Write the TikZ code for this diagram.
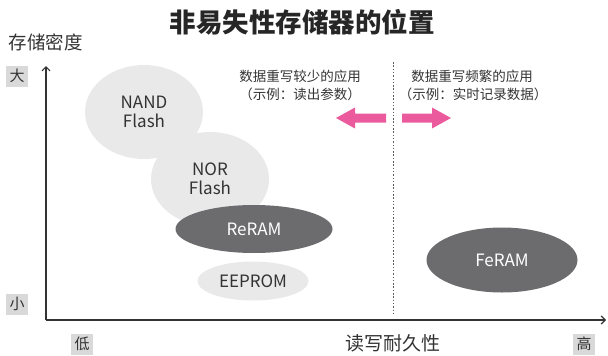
\documentclass[tikz,border=0pt]{standalone}
\usepackage{fontspec}
\setmainfont{Noto Sans CJK SC}
\usetikzlibrary{shapes.geometric,arrows.meta}
\definecolor{lightell}{HTML}{E9E9EA}
\definecolor{darkell}{HTML}{6C6C6E}
\definecolor{txt}{HTML}{333333}
\definecolor{boxgray}{HTML}{D9D9D9}
\definecolor{pinkarrow}{HTML}{EC5A9E}
\begin{document}
\begin{tikzpicture}[x=1pt,y=-1pt,
  lightel/.style={ellipse,fill=lightell,inner sep=0pt,text=txt,align=center,font=\fontsize{17}{19}\selectfont},
  darkel/.style={ellipse,fill=darkell,inner sep=0pt,text=white,align=center,font=\fontsize{17}{19}\selectfont},
  lvl/.style={fill=boxgray,text=txt,minimum width=22pt,minimum height=21pt,inner sep=0pt,font=\fontsize{15}{15}\selectfont},
  lab/.style={text=txt,inner sep=0pt,font=\fontsize{13.5}{16}\selectfont},
  axis/.style={line width=1.6pt,draw=txt,-{Straight Barb[length=4pt,width=8pt,line width=1.2pt]}},
  pinkar/.style={fill=pinkarrow,draw=none}]
\useasboundingbox (0,0) rectangle (608,356);

% title
\node[text=black!85,inner sep=0pt,font=\fontsize{26.5}{26.5}\selectfont\bfseries] (title) at (302,22) {非易失性存储器的位置};
\node[lab,font=\fontsize{18.5}{18.5}\selectfont] (ylab) at (46,42) {存储密度};

% axes
\coordinate (origin) at (46,320);
\coordinate (ytop) at (46,66);
\coordinate (xend) at (606,320);
\draw[axis] (origin) -- (ytop);
\draw[axis] (origin) -- (xend);

% level boxes
\node[lvl] (big) at (17,76) {大};
\node[lvl] (small) at (17,304) {小};
\node[lvl] (low) at (82,344) {低};
\node[lvl] (high) at (584,344) {高};
\node[lab,font=\fontsize{19}{19}\selectfont] (xlab) at (393,343) {读写耐久性};

% dotted divider
\coordinate (dtop) at (393,62);
\coordinate (dbot) at (393,313);
\draw[txt!80,line width=1pt,dash pattern=on 1.5pt off 1.8pt] (dtop) -- (dbot);

% texts
\node[lab] (t1) at (300,76) {数据重写较少的应用};
\node[lab] (t2) at (300,94) {（示例：读出参数）};
\node[lab] (t3) at (472,76) {数据重写频繁的应用};
\node[lab] (t4) at (473,94) {（示例：实时记录数据）};

% pink arrows
\fill[pinkar] (336,118) -- (355,107.5) -- (355,113.5) -- (386,113.5) -- (386,122.5) -- (355,122.5) -- (355,128.5) -- cycle;
\fill[pinkar] (451,118) -- (432,107.5) -- (432,113.5) -- (402,113.5) -- (402,122.5) -- (432,122.5) -- (432,128.5) -- cycle;

% ellipses
\node[lightel,minimum width=118pt,minimum height=94pt] (nand) at (144,112) {NAND\\Flash};
\node[lightel,minimum width=118pt,minimum height=94pt] (nor) at (210,179) {NOR\\Flash};
\node[darkel,minimum width=157pt,minimum height=48pt] (reram) at (254,229) {ReRAM};
\node[lightel,minimum width=111pt,minimum height=39pt] (eeprom) at (253,281) {EEPROM};
\node[darkel,minimum width=151pt,minimum height=65pt] (feram) at (502,260) {FeRAM};
\end{tikzpicture}
\end{document}
